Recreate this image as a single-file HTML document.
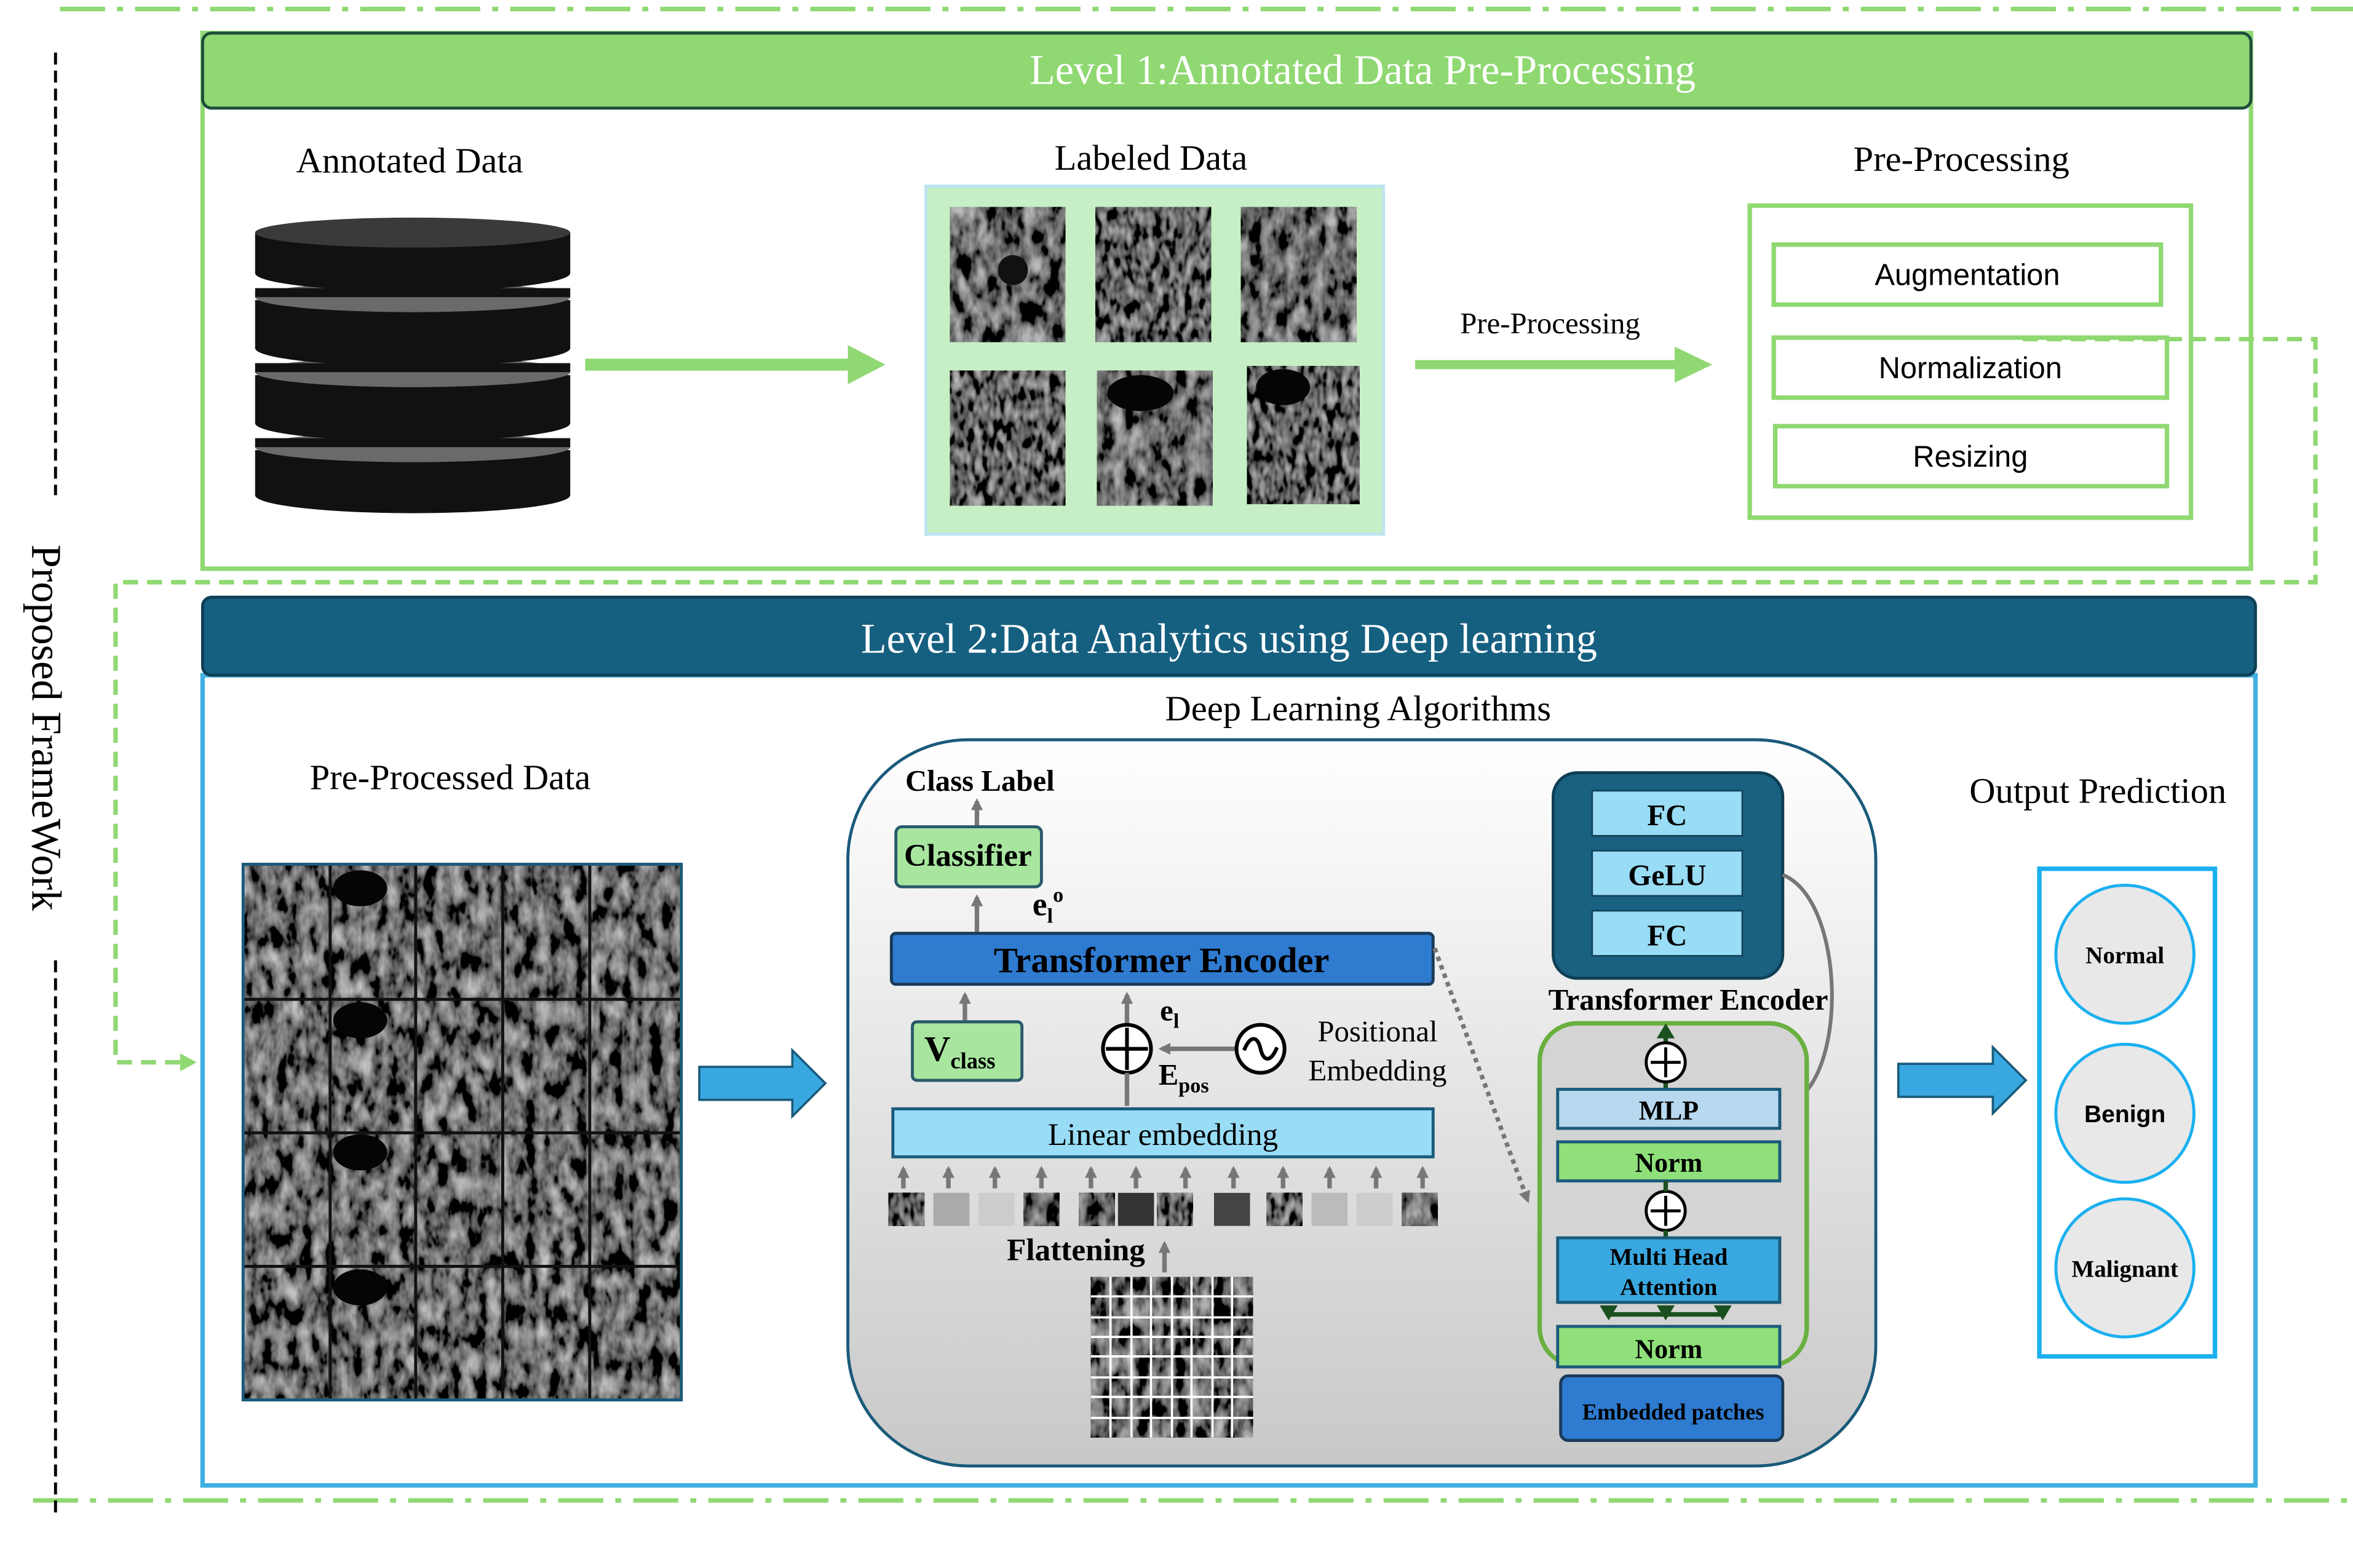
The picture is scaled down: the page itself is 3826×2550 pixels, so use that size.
<!DOCTYPE html>
<html><head><meta charset="utf-8"><style>
html,body{margin:0;padding:0;background:#fff;}
svg{display:block;}
.s{font-family:"Liberation Serif",serif;}
.a{font-family:"Liberation Sans",sans-serif;}
</style></head><body>
<svg width="3826" height="2550" viewBox="0 0 1568 1045" xmlns="http://www.w3.org/2000/svg">
<defs>
<filter id="us" x="0" y="0" width="100%" height="100%">
<feTurbulence type="fractalNoise" baseFrequency="0.12 0.06" numOctaves="3" seed="3" result="n"/>
<feColorMatrix in="n" type="matrix" values="0.7 0.7 0 0 -0.55  0.7 0.7 0 0 -0.55  0.7 0.7 0 0 -0.55  0 0 0 0 1"/>
</filter>
<filter id="us2" x="0" y="0" width="100%" height="100%">
<feTurbulence type="fractalNoise" baseFrequency="0.2 0.1" numOctaves="2" seed="8" result="n"/>
<feColorMatrix in="n" type="matrix" values="0.75 0.6 0 0 -0.55  0.75 0.6 0 0 -0.55  0.75 0.6 0 0 -0.55  0 0 0 0 1"/>
</filter>
<linearGradient id="pg" x1="0" y1="0" x2="0" y2="1"><stop offset="0" stop-color="#ffffff"/><stop offset="1" stop-color="#c8c8c8"/></linearGradient>
<marker id="gr" markerWidth="8" markerHeight="8" refX="6" refY="4" orient="auto" markerUnits="userSpaceOnUse"><path d="M0,0L8,4L0,8z" fill="#777"/></marker>
</defs>

<line x1="40" y1="6" x2="1568" y2="6" stroke="#8fd872" stroke-width="3" stroke-dasharray="30 8 4 8"/>
<line x1="22" y1="1000" x2="1568" y2="1000" stroke="#8fd872" stroke-width="3" stroke-dasharray="30 8 4 8"/>
<line x1="37" y1="35" x2="37" y2="330" stroke="#000" stroke-width="2" stroke-dasharray="8 4"/>
<line x1="37" y1="640" x2="37" y2="1010" stroke="#000" stroke-width="2" stroke-dasharray="8 4"/>
<text class="s" x="28" y="485" font-size="28" text-anchor="middle" transform="rotate(90 28 485)" dominant-baseline="middle">Proposed FrameWork</text>

<rect x="135" y="22" width="1365" height="357" fill="none" stroke="#8fd872" stroke-width="3"/>
<rect x="135" y="22" width="1365" height="50" rx="6" fill="#8fd872" stroke="#1f4e3d" stroke-width="2"/>
<text class="s" x="908" y="56" font-size="28" fill="#fff" text-anchor="middle">Level 1:Annotated Data Pre-Processing</text>

<text class="s" x="273" y="115" font-size="24" text-anchor="middle">Annotated Data</text>
<g>
<ellipse cx="275" cy="330" rx="105" ry="12" fill="#111"/><rect x="170" y="300" width="210" height="30" fill="#111"/><ellipse cx="275" cy="298" rx="105" ry="10" fill="#6a6a6a"/><rect x="170" y="292" width="210" height="6" fill="#111"/>
<ellipse cx="275" cy="282" rx="105" ry="12" fill="#111"/><rect x="170" y="250" width="210" height="32" fill="#111"/><ellipse cx="275" cy="248" rx="105" ry="10" fill="#6a6a6a"/><rect x="170" y="242" width="210" height="6" fill="#111"/>
<ellipse cx="275" cy="232" rx="105" ry="12" fill="#111"/><rect x="170" y="200" width="210" height="32" fill="#111"/><ellipse cx="275" cy="198" rx="105" ry="10" fill="#6a6a6a"/><rect x="170" y="192" width="210" height="6" fill="#111"/>
<ellipse cx="275" cy="182" rx="105" ry="12" fill="#111"/><rect x="170" y="155" width="210" height="27" fill="#111"/><ellipse cx="275" cy="155" rx="105" ry="10" fill="#3a3a3a"/>
</g>
<line x1="390" y1="243" x2="568" y2="243" stroke="#8fd872" stroke-width="8"/>
<path d="M565,230L590,243L565,256z" fill="#8fd872"/>

<text class="s" x="767" y="113" font-size="24" text-anchor="middle">Labeled Data</text>
<rect x="617" y="124" width="305" height="232" fill="#c6efc6" stroke="#bde3f0" stroke-width="2"/>
<rect x="633" y="138" width="77" height="90" filter="url(#us)"/>
<rect x="730" y="138" width="77" height="90" filter="url(#us2)"/>
<rect x="827" y="138" width="77" height="90" filter="url(#us)"/>
<rect x="633" y="247" width="77" height="90" filter="url(#us2)"/>
<rect x="731" y="247" width="77" height="90" filter="url(#us)"/>
<rect x="831" y="244" width="75" height="92" filter="url(#us2)"/>
<ellipse cx="760" cy="262" rx="22" ry="12" fill="#050505"/>
<ellipse cx="855" cy="258" rx="18" ry="12" fill="#050505"/>
<circle cx="675" cy="180" r="10" fill="#111"/>

<text class="s" x="1033" y="222" font-size="20" text-anchor="middle">Pre-Processing</text>
<line x1="943" y1="243" x2="1120" y2="243" stroke="#8fd872" stroke-width="6"/>
<path d="M1116,231L1141,243L1116,255z" fill="#8fd872"/>

<text class="s" x="1307" y="114" font-size="24" text-anchor="middle">Pre-Processing</text>
<rect x="1166" y="137" width="294" height="208" fill="none" stroke="#8fd872" stroke-width="3"/>
<rect x="1182" y="163" width="258" height="40" fill="none" stroke="#8fd872" stroke-width="3"/>
<text class="a" x="1311" y="190" font-size="20" text-anchor="middle">Augmentation</text>
<rect x="1182" y="225" width="262" height="40" fill="none" stroke="#8fd872" stroke-width="3"/>
<text class="a" x="1313" y="252" font-size="20" text-anchor="middle">Normalization</text>
<rect x="1183" y="284" width="261" height="40" fill="none" stroke="#8fd872" stroke-width="3"/>
<text class="a" x="1313" y="311" font-size="20" text-anchor="middle">Resizing</text>

<polyline points="1348,226 1543,226 1543,388 77,388 77,708 122,708" fill="none" stroke="#8fd872" stroke-width="3" stroke-dasharray="10 6"/>
<path d="M120,702L131,708L120,714z" fill="#8fd872"/>

<rect x="135" y="450" width="1368" height="540" fill="none" stroke="#3fb0e0" stroke-width="3"/>
<rect x="135" y="398" width="1368" height="52" rx="6" fill="#155f80" stroke="#0f3f55" stroke-width="2"/>
<text class="s" x="819" y="435" font-size="28" fill="#fff" text-anchor="middle">Level 2:Data Analytics using Deep learning</text>
<text class="s" x="905" y="480" font-size="24" text-anchor="middle">Deep Learning Algorithms</text>

<text class="s" x="300" y="526" font-size="24" text-anchor="middle">Pre-Processed Data</text>
<rect x="162" y="576" width="292" height="357" filter="url(#us)"/>
<g fill="#050505">
<ellipse cx="240" cy="592" rx="18" ry="12"/><ellipse cx="240" cy="680" rx="18" ry="12"/><ellipse cx="240" cy="768" rx="18" ry="12"/><ellipse cx="240" cy="858" rx="18" ry="12"/>
</g>
<g stroke="#111" stroke-width="2">
<line x1="220" y1="576" x2="220" y2="933"/><line x1="277" y1="576" x2="277" y2="933"/><line x1="335" y1="576" x2="335" y2="933"/><line x1="393" y1="576" x2="393" y2="933"/>
<line x1="162" y1="666" x2="454" y2="666"/><line x1="162" y1="755" x2="454" y2="755"/><line x1="162" y1="844" x2="454" y2="844"/>
</g>
<rect x="162" y="576" width="292" height="357" fill="none" stroke="#1a5a7a" stroke-width="2"/>

<path d="M466,711L528,711L528,700L550,722L528,744L528,733L466,733z" fill="#3aa8e0" stroke="#1a5a7a" stroke-width="1.5"/>
<path d="M1265,709L1328,709L1328,698L1350,720L1328,742L1328,731L1265,731z" fill="#3aa8e0" stroke="#1a5a7a" stroke-width="1.5"/>

<rect x="565" y="493" width="685" height="484" rx="80" fill="url(#pg)" stroke="#1a5a7a" stroke-width="2"/>
<text class="s" x="653" y="527" font-size="20" font-weight="bold" text-anchor="middle">Class Label</text>
<line x1="651" y1="551" x2="651" y2="534" stroke="#777" stroke-width="3" marker-end="url(#gr)"/>
<rect x="597" y="551" width="97" height="40" rx="4" fill="#a8e6a0" stroke="#2a5a6a" stroke-width="2"/>
<text class="s" x="645" y="577" font-size="21" font-weight="bold" text-anchor="middle">Classifier</text>
<line x1="651" y1="621" x2="651" y2="598" stroke="#777" stroke-width="3" marker-end="url(#gr)"/>
<text class="s" x="688" y="610" font-size="22" font-weight="bold">e<tspan font-size="14" dy="5">l</tspan><tspan font-size="14" dy="-14">o</tspan></text>
<rect x="594" y="622" width="361" height="34" rx="3" fill="#2e7bd0" stroke="#1a3a5a" stroke-width="2"/>
<text class="s" x="774" y="648" font-size="24" font-weight="bold" text-anchor="middle">Transformer Encoder</text>
<line x1="643" y1="680" x2="643" y2="663" stroke="#777" stroke-width="3" marker-end="url(#gr)"/>
<line x1="751" y1="683" x2="751" y2="663" stroke="#777" stroke-width="3" marker-end="url(#gr)"/>
<rect x="608" y="681" width="73" height="39" rx="3" fill="#a8e6a0" stroke="#2a5a6a" stroke-width="2"/>
<text class="s" x="616" y="707" font-size="24" font-weight="bold">V<tspan font-size="15" dy="5">class</tspan></text>
<circle cx="751" cy="699" r="16" fill="#fff" stroke="#000" stroke-width="2.5"/>
<line x1="737" y1="699" x2="765" y2="699" stroke="#000" stroke-width="2.5"/><line x1="751" y1="685" x2="751" y2="713" stroke="#000" stroke-width="2.5"/>
<line x1="751" y1="715" x2="751" y2="737" stroke="#777" stroke-width="3"/>
<text class="s" x="773" y="680" font-size="20" font-weight="bold">e<tspan font-size="14" dy="5">l</tspan></text>
<text class="s" x="772" y="723" font-size="20" font-weight="bold">E<tspan font-size="14" dy="5">pos</tspan></text>
<line x1="824" y1="699" x2="774" y2="699" stroke="#777" stroke-width="3" marker-end="url(#gr)"/>
<circle cx="840" cy="699" r="16" fill="#fff" stroke="#000" stroke-width="2.5"/>
<path d="M829,700 C833,690 838,690 840,699 C842,708 847,708 851,698" fill="none" stroke="#000" stroke-width="2.5"/>
<text class="s" x="918" y="694" font-size="20" text-anchor="middle">Positional</text>
<text class="s" x="918" y="720" font-size="20" text-anchor="middle">Embedding</text>
<rect x="595" y="739" width="360" height="32" fill="#99dcf5" stroke="#1a5a7a" stroke-width="2"/>
<text class="s" x="775" y="763" font-size="21" text-anchor="middle">Linear embedding</text>
<g stroke="#777" stroke-width="3">
<line x1="602" y1="792" x2="602" y2="779" marker-end="url(#gr)"/><line x1="632" y1="792" x2="632" y2="779" marker-end="url(#gr)"/>
<line x1="663" y1="792" x2="663" y2="779" marker-end="url(#gr)"/><line x1="694" y1="792" x2="694" y2="779" marker-end="url(#gr)"/>
<line x1="727" y1="792" x2="727" y2="779" marker-end="url(#gr)"/><line x1="757" y1="792" x2="757" y2="779" marker-end="url(#gr)"/>
<line x1="790" y1="792" x2="790" y2="779" marker-end="url(#gr)"/><line x1="822" y1="792" x2="822" y2="779" marker-end="url(#gr)"/>
<line x1="855" y1="792" x2="855" y2="779" marker-end="url(#gr)"/><line x1="886" y1="792" x2="886" y2="779" marker-end="url(#gr)"/>
<line x1="917" y1="792" x2="917" y2="779" marker-end="url(#gr)"/><line x1="948" y1="792" x2="948" y2="779" marker-end="url(#gr)"/>
</g>
<g>
<rect x="592" y="795" width="24" height="22" filter="url(#us2)"/><rect x="622" y="795" width="24" height="22" fill="#aaa"/><rect x="652" y="795" width="24" height="22" fill="#ccc"/><rect x="682" y="795" width="24" height="22" filter="url(#us)"/>
<rect x="719" y="795" width="24" height="22" filter="url(#us)"/><rect x="745" y="795" width="24" height="22" fill="#333"/><rect x="771" y="795" width="24" height="22" filter="url(#us2)"/><rect x="809" y="795" width="24" height="22" fill="#444"/>
<rect x="844" y="795" width="24" height="22" filter="url(#us2)"/><rect x="874" y="795" width="24" height="22" fill="#bbb"/><rect x="904" y="795" width="24" height="22" fill="#ccc"/><rect x="934" y="795" width="24" height="22" filter="url(#us)"/>
</g>
<text class="s" x="717" y="840" font-size="21" font-weight="bold" text-anchor="middle">Flattening</text>
<line x1="776" y1="848" x2="776" y2="829" stroke="#777" stroke-width="3" marker-end="url(#gr)"/>
<rect x="727" y="851" width="108" height="107" filter="url(#us)"/>
<g stroke="#fff" stroke-width="1.5">
<line x1="740" y1="851" x2="740" y2="958"/><line x1="754" y1="851" x2="754" y2="958"/><line x1="767" y1="851" x2="767" y2="958"/><line x1="781" y1="851" x2="781" y2="958"/><line x1="794" y1="851" x2="794" y2="958"/><line x1="808" y1="851" x2="808" y2="958"/><line x1="821" y1="851" x2="821" y2="958"/>
<line x1="727" y1="864" x2="835" y2="864"/><line x1="727" y1="878" x2="835" y2="878"/><line x1="727" y1="891" x2="835" y2="891"/><line x1="727" y1="904" x2="835" y2="904"/><line x1="727" y1="918" x2="835" y2="918"/><line x1="727" y1="931" x2="835" y2="931"/><line x1="727" y1="945" x2="835" y2="945"/>
</g>
<line x1="956" y1="632" x2="1018" y2="800" stroke="#777" stroke-width="3" stroke-dasharray="3 3" marker-end="url(#gr)"/>

<rect x="1035" y="515" width="153" height="137" rx="16" fill="#1a6080" stroke="#0f3f55" stroke-width="2"/>
<rect x="1061" y="527" width="100" height="30" fill="#99dcf5" stroke="#0f3f55"/>
<text class="s" x="1111" y="550" font-size="20" font-weight="bold" text-anchor="middle">FC</text>
<rect x="1061" y="567" width="100" height="30" fill="#99dcf5" stroke="#0f3f55"/>
<text class="s" x="1111" y="590" font-size="20" font-weight="bold" text-anchor="middle">GeLU</text>
<rect x="1061" y="607" width="100" height="30" fill="#99dcf5" stroke="#0f3f55"/>
<text class="s" x="1111" y="630" font-size="20" font-weight="bold" text-anchor="middle">FC</text>
<text class="s" x="1125" y="673" font-size="20" font-weight="bold" text-anchor="middle">Transformer Encoder</text>
<path d="M1188,583 C1230,600 1232,720 1192,736" fill="none" stroke="#777" stroke-width="2.5" marker-end="url(#gr)"/>

<rect x="1026" y="682" width="178" height="228" rx="25" fill="#d4d4d4" stroke="#6ab040" stroke-width="3"/>
<line x1="1110" y1="726" x2="1110" y2="690" stroke="#1a5020" stroke-width="3"/>
<path d="M1104,692L1110,682L1116,692z" fill="#1a5020"/>
<circle cx="1110" cy="708" r="13" fill="#fff" stroke="#000" stroke-width="2"/>
<line x1="1100" y1="708" x2="1120" y2="708" stroke="#000" stroke-width="2"/><line x1="1110" y1="698" x2="1110" y2="718" stroke="#000" stroke-width="2"/>
<rect x="1038" y="726" width="148" height="26" fill="#b8d8f0" stroke="#1a5a7a" stroke-width="2"/>
<text class="s" x="1112" y="746" font-size="18" font-weight="bold" text-anchor="middle">MLP</text>
<rect x="1038" y="761" width="148" height="26" fill="#8fe07a" stroke="#1a5a7a" stroke-width="2"/>
<text class="s" x="1112" y="781" font-size="18" font-weight="bold" text-anchor="middle">Norm</text>
<circle cx="1110" cy="807" r="13" fill="#fff" stroke="#000" stroke-width="2"/>
<line x1="1100" y1="807" x2="1120" y2="807" stroke="#000" stroke-width="2"/><line x1="1110" y1="797" x2="1110" y2="817" stroke="#000" stroke-width="2"/>
<line x1="1110" y1="787" x2="1110" y2="794" stroke="#1a5020" stroke-width="3"/>
<line x1="1110" y1="820" x2="1110" y2="825" stroke="#1a5020" stroke-width="3"/>
<rect x="1038" y="825" width="148" height="43" fill="#3aa8e0" stroke="#1a5a7a" stroke-width="2"/>
<text class="s" x="1112" y="843" font-size="16" font-weight="bold" text-anchor="middle">Multi Head</text>
<text class="s" x="1112" y="863" font-size="16" font-weight="bold" text-anchor="middle">Attention</text>
<line x1="1072" y1="876" x2="1148" y2="876" stroke="#1a5020" stroke-width="3"/>
<path d="M1066,870L1078,870L1072,880z M1104,870L1116,870L1110,880z M1142,870L1154,870L1148,880z" fill="#1a5020"/>
<rect x="1038" y="884" width="148" height="27" fill="#8fe07a" stroke="#1a5a7a" stroke-width="2"/>
<text class="s" x="1112" y="905" font-size="18" font-weight="bold" text-anchor="middle">Norm</text>
<rect x="1040" y="917" width="148" height="43" rx="5" fill="#2e7bd0" stroke="#1a3a5a" stroke-width="2"/>
<text class="s" x="1115" y="946" font-size="15" font-weight="bold" text-anchor="middle">Embedded patches</text>

<text class="s" x="1398" y="535" font-size="24" text-anchor="middle">Output Prediction</text>
<rect x="1359" y="579" width="117" height="325" fill="#fff" stroke="#1ab0f0" stroke-width="3"/>
<circle cx="1416" cy="636" r="46" fill="#e8e8e8" stroke="#1ab0f0" stroke-width="2"/>
<text class="s" x="1416" y="642" font-size="16" font-weight="bold" text-anchor="middle">Normal</text>
<circle cx="1416" cy="742" r="46" fill="#e8e8e8" stroke="#1ab0f0" stroke-width="2"/>
<text class="a" x="1416" y="748" font-size="16" font-weight="bold" text-anchor="middle">Benign</text>
<circle cx="1416" cy="845" r="46" fill="#e8e8e8" stroke="#1ab0f0" stroke-width="2"/>
<text class="s" x="1416" y="851" font-size="16" font-weight="bold" text-anchor="middle">Malignant</text>
</svg>
</body></html>
